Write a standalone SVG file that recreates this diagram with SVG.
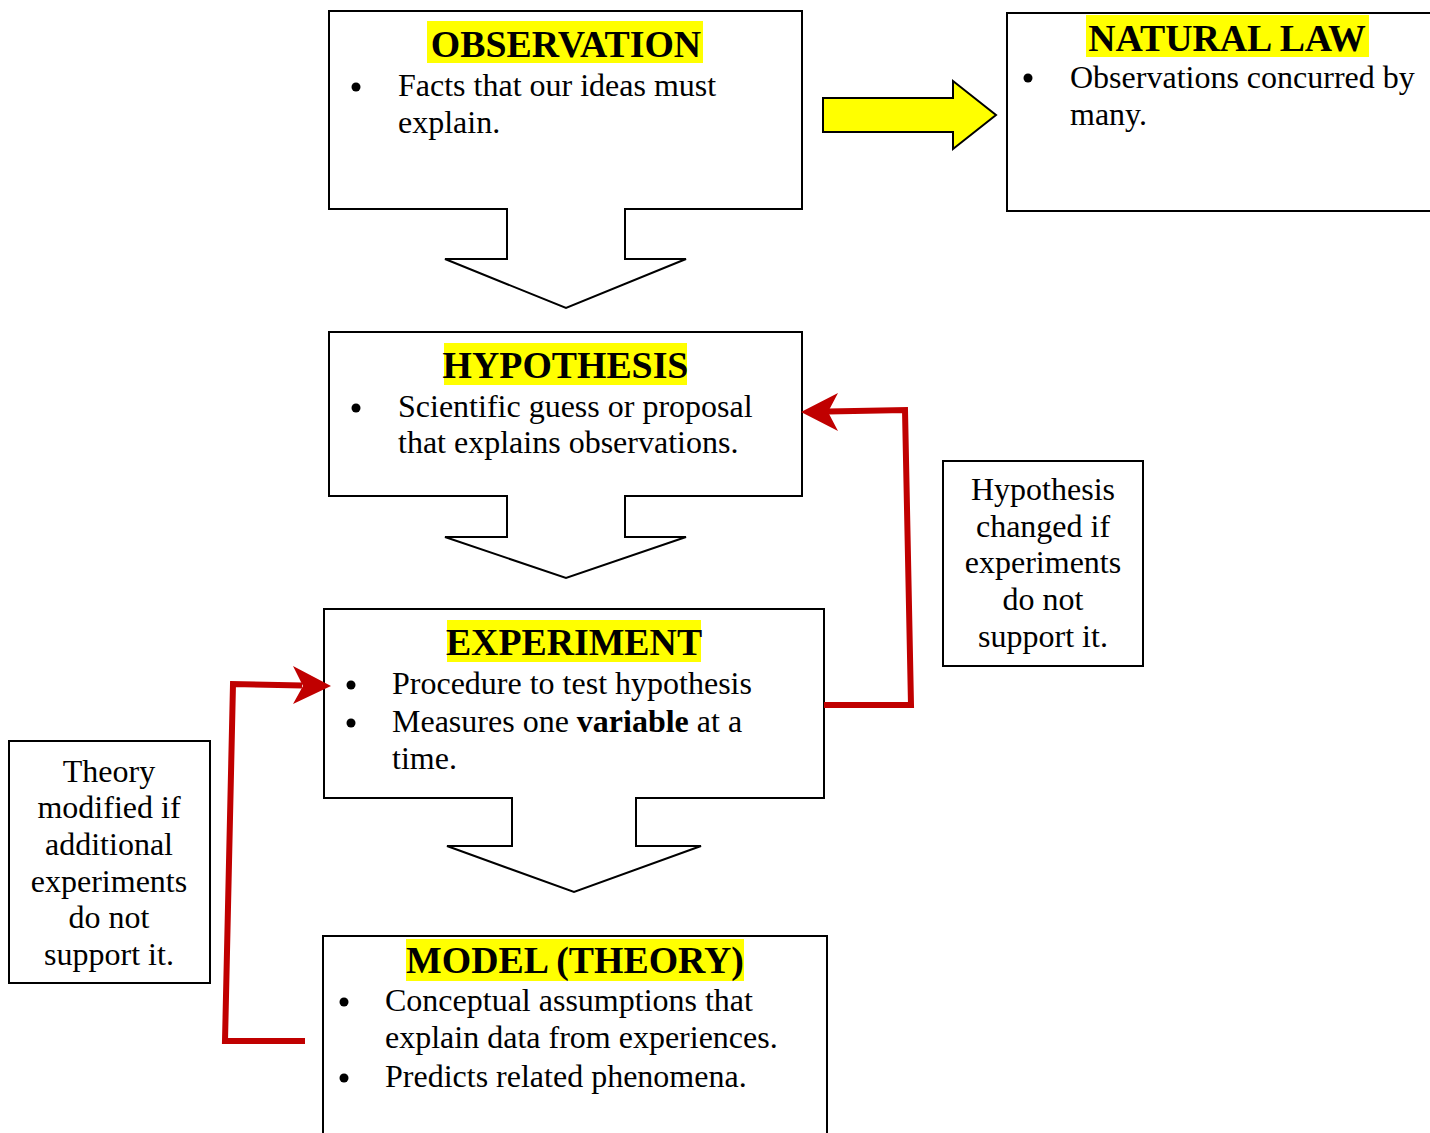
<svg xmlns="http://www.w3.org/2000/svg" width="1430" height="1133" viewBox="0 0 1430 1133">
<style>
.box{fill:#fff;stroke:#000;stroke-width:2}
.hl{fill:#ffff00}
.title{font-family:"Liberation Serif","Times New Roman",serif;font-weight:bold;font-size:37.8px;text-anchor:middle;fill:#000}
.txt{font-family:"Liberation Serif","Times New Roman",serif;font-size:32px;fill:#000}
.ctr{text-anchor:middle}
.red{fill:none;stroke:#c00000;stroke-width:6}
.redhead{fill:#c00000;stroke:none}
</style>
<rect width="1430" height="1133" fill="#fff"/>

<g id="observation">
<path class="box" d="M329,11 H802 V209 H625 V259 H686 L566,308 L445,259 H507 V209 H329 Z"/>
<rect class="hl" x="427" y="21" width="276" height="42"/>
<text class="title" x="566" y="57">OBSERVATION</text>
<circle cx="356" cy="87" r="4.5"/>
<text class="txt" x="398" y="96">Facts that our ideas must</text>
<text class="txt" x="398" y="133">explain.</text>
</g>

<g id="natural-law">
<rect class="box" x="1007" y="13" width="430" height="198"/>
<rect class="hl" x="1086" y="15" width="283" height="42"/>
<text class="title" x="1227" y="51">NATURAL LAW</text>
<circle cx="1028" cy="78" r="4.5"/>
<text class="txt" x="1070" y="88">Observations concurred by</text>
<text class="txt" x="1070" y="125">many.</text>
</g>

<g id="hypothesis">
<path class="box" d="M329,332 H802 V496 H625 V537 H686 L566,578 L445,537 H507 V496 H329 Z"/>
<rect class="hl" x="444" y="343" width="243" height="42"/>
<text class="title" x="565.5" y="378">HYPOTHESIS</text>
<circle cx="356" cy="408" r="4.5"/>
<text class="txt" x="398" y="417">Scientific guess or proposal</text>
<text class="txt" x="398" y="453">that explains observations.</text>
</g>

<g id="experiment">
<path class="box" d="M324,609 H824 V798 H636 V846 H701 L574,892 L447,846 H512 V798 H324 Z"/>
<rect class="hl" x="447" y="620" width="254" height="42"/>
<text class="title" x="574" y="655">EXPERIMENT</text>
<circle cx="351" cy="685" r="4.5"/>
<text class="txt" x="392" y="694">Procedure to test hypothesis</text>
<circle cx="351" cy="723" r="4.5"/>
<text class="txt" x="392" y="732">Measures one <tspan font-weight="bold">variable</tspan> at a</text>
<text class="txt" x="392" y="769">time.</text>
</g>

<g id="model">
<rect class="box" x="323" y="936" width="504" height="210"/>
<rect class="hl" x="406" y="939" width="338" height="42"/>
<text class="title" x="575" y="973">MODEL (THEORY)</text>
<circle cx="344" cy="1002" r="4.5"/>
<text class="txt" x="385" y="1011">Conceptual assumptions that</text>
<text class="txt" x="385" y="1048">explain data from experiences.</text>
<circle cx="344" cy="1078" r="4.5"/>
<text class="txt" x="385" y="1087">Predicts related phenomena.</text>
</g>

<g id="note-hypothesis">
<rect class="box" x="943" y="461" width="200" height="205"/>
<text class="txt ctr" x="1043" y="500">Hypothesis</text>
<text class="txt ctr" x="1043" y="537">changed if</text>
<text class="txt ctr" x="1043" y="573">experiments</text>
<text class="txt ctr" x="1043" y="610">do not</text>
<text class="txt ctr" x="1043" y="647">support it.</text>
</g>

<g id="note-theory">
<rect class="box" x="9" y="741" width="201" height="242"/>
<text class="txt ctr" x="109" y="782">Theory</text>
<text class="txt ctr" x="109" y="818">modified if</text>
<text class="txt ctr" x="109" y="855">additional</text>
<text class="txt ctr" x="109" y="892">experiments</text>
<text class="txt ctr" x="109" y="928">do not</text>
<text class="txt ctr" x="109" y="965">support it.</text>
</g>

<g id="connectors">
<path d="M823,98 H953 V81 L996,115 L953,149 V132 H823 Z" fill="#ffff00" stroke="#000" stroke-width="2"/>
<path class="red" d="M824,705 H911 L905,410 L828,411.5"/>
<path class="redhead" d="M801,412 L838,393 L828,412 L838,431 Z"/>
<path class="red" d="M305,1041 H225 L233,684 L302,685.5"/>
<path class="redhead" d="M331,686 L293,666 L303,686 L293,704 Z"/>
</g>
</svg>
